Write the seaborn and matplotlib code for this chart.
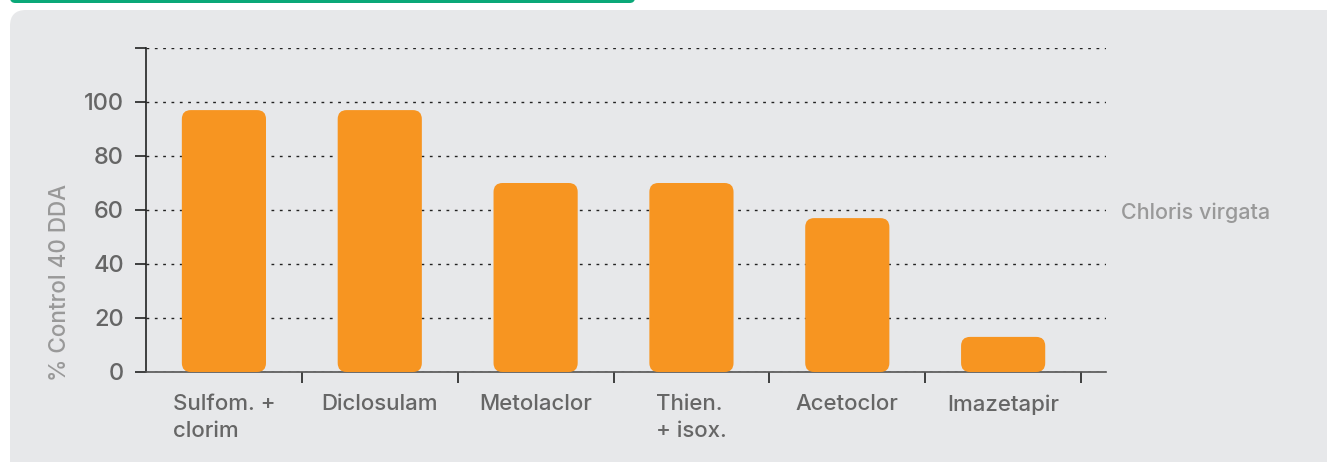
import numpy as np
import pandas as pd
import matplotlib
matplotlib.use("Agg")
import matplotlib.pyplot as plt
import seaborn as sns
from matplotlib.patches import FancyBboxPatch

# data
herbicides = ["Sulfom. +\nclorim", "Diclosulam", "Metolaclor", "Thien.\n+ isox.", "Acetoclor", "Imazetapir"]
control_40dda = [97, 97, 70, 70, 57, 13]
y_ticks = [0, 20, 40, 60, 80, 100, 120]
y_tick_labels = ["0", "20", "40", "60", "80", "100", ""]
species = "Chloris virgata"

ORANGE = "#f79521"
PANEL = "#e7e8ea"
GREEN = "#0aa878"

sns.set_theme(style="white")
plt.rcParams["font.family"] = ["Inter", "DejaVu Sans"]

W, H = 1327, 462
fig = plt.figure(figsize=(W / 100, H / 100), dpi=100)
fig.patch.set_facecolor("white")

# grey card and green strip on top
fig.patches.append(FancyBboxPatch((10 / W, -20 / H), 1340 / W, 472 / H,
                                  boxstyle="round,pad=0,rounding_size=0.012",
                                  mutation_aspect=W / H,
                                  transform=fig.transFigure, facecolor=PANEL,
                                  edgecolor="none", zorder=-10))
fig.patches.append(FancyBboxPatch((10 / W, (H - 3) / H), 625 / W, 10 / H,
                                  boxstyle="round,pad=0,rounding_size=0.004",
                                  mutation_aspect=W / H,
                                  transform=fig.transFigure, facecolor=GREEN,
                                  edgecolor="none", zorder=-9))

ax = fig.add_axes([146 / W, 90 / H, 960 / W, 324 / H])
ax.set_facecolor("none")

df = pd.DataFrame({"herbicide": herbicides, "control": control_40dda})
sns.barplot(data=df, x="herbicide", y="control", color=ORANGE, width=0.54,
            saturation=1, ax=ax, zorder=3)

ax.set_xlim(-0.5, 5.66)
ax.set_ylim(0, 120)

# swap plain bars for rounded ones
px_x = 960 / 6.16
px_y = 324 / 120
r = 9
for p in list(ax.patches):
    x0, y0 = p.get_x(), p.get_y()
    w, h = p.get_width(), p.get_height()
    p.remove()
    ax.add_patch(FancyBboxPatch((x0, y0), w, h,
                                boxstyle=f"round,pad=0,rounding_size={r / px_x}",
                                mutation_aspect=px_x / px_y,
                                facecolor=ORANGE, edgecolor="none", zorder=3))

ax.set_yticks(y_ticks)
ax.set_yticklabels(y_tick_labels, fontweight=500)
ax.yaxis.grid(True, linestyle=(0, (2, 4)), color="#222222", linewidth=1.0)
ax.set_axisbelow(True)

ax.set_xticks(range(len(herbicides)))
ax.set_xticklabels(herbicides, multialignment="left", fontweight=500)
ax.set_xticks(np.arange(0.5, 6, 1), minor=True)
ax.tick_params(axis="x", which="major", length=0, pad=16, labelsize=16,
               labelcolor="#666666")
ax.tick_params(axis="x", which="minor", length=8, width=1.2, color="#222222",
               direction="out", bottom=True)
ax.tick_params(axis="y", length=8, width=1.2, color="#222222", direction="out",
               left=True, labelsize=17, labelcolor="#666666", pad=8)
for lab in ax.get_xticklabels():
    lab.set_verticalalignment("top")
    lab.set_linespacing(1.4)

for s in ["top", "right"]:
    ax.spines[s].set_visible(False)
ax.spines["left"].set_color("#222222")
ax.spines["left"].set_linewidth(1.2)
ax.spines["bottom"].set_color("#555555")
ax.spines["bottom"].set_linewidth(1.2)

ax.set_xlabel("")
ax.set_ylabel("% Control 40 DDA", color="#999999", fontsize=16.2, fontweight=500)
ax.yaxis.set_label_coords((71 - 146) / 960, (372 - 282) / 324)

fig.text(1121 / W, (H - 213) / H, species, color="#999999", fontsize=15.5,
         fontweight=500, va="center", ha="left")

fig.savefig("out.png", dpi=100, facecolor=fig.get_facecolor())
